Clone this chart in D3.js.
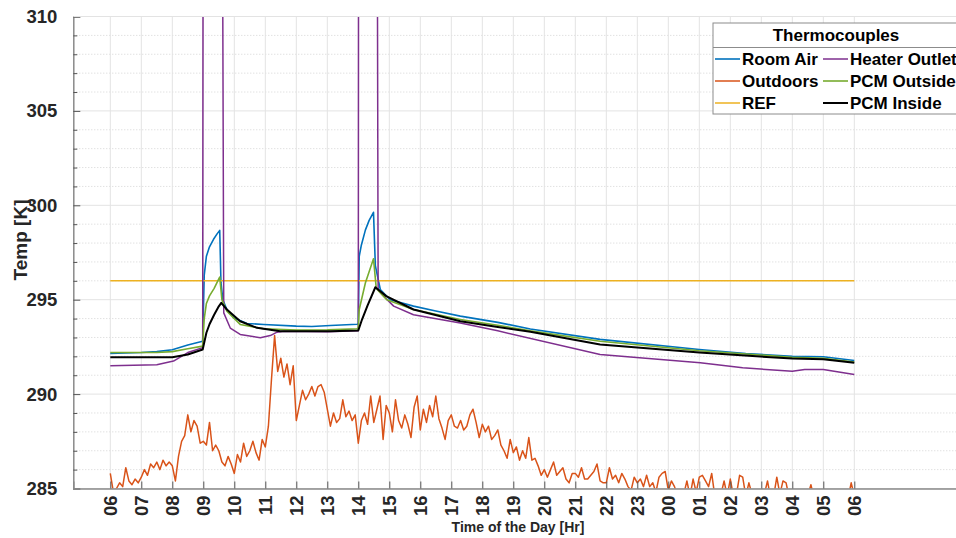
<!DOCTYPE html>
<html>
<head>
<meta charset="utf-8">
<script src="https://cdn.jsdelivr.net/npm/d3@7/dist/d3.min.js"></script>
<style>
  html, body { margin: 0; padding: 0; background: #fff; }
  svg { display: block; font-family: "Liberation Sans", Arial, Helvetica, sans-serif; }
</style>
</head>
<body>
<svg id="chart" width="956" height="538"></svg>
<script>
// Hours are counted from 06:00 on the first day (0) to 06:00 the next day (24).
const hourLabels = ["06","07","08","09","10","11","12","13","14","15","16","17","18",
                    "19","20","21","22","23","00","01","02","03","04","05","06"];
const tempTicks = [285, 290, 295, 300, 305, 310];

// Room Air thermocouple [hour, K]
const roomAir = [[0,292.15],[1,292.2],[1.5,292.25],[2,292.35],[2.5,292.6],[2.85,292.75],[2.98,292.8],
  [3.03,296.3],[3.1,297.3],[3.2,297.8],[3.33,298.2],[3.45,298.5],[3.53,298.67],[3.57,295.9],[3.63,295.0],
  [3.76,294.48],[3.98,294.04],[4.41,293.74],[4.95,293.69],[6.0,293.6],[6.5,293.58],[7.1,293.63],
  [7.96,293.7],[8.0,293.72],[8.03,297.3],[8.1,297.9],[8.23,298.7],[8.35,299.2],[8.49,299.63],
  [8.55,296.8],[8.71,295.54],[9.03,295.0],[9.78,294.66],[10.5,294.4],[11.29,294.13],[12.5,293.8],
  [13.55,293.45],[15.8,292.9],[19.0,292.36],[20.5,292.15],[22.0,292.0],[23.0,291.98],[24.0,291.78]];

// Outdoors thermocouple, one reading every 0.1 h
const outdoorStep = 0.1;
const outdoors = [
  285.8,284.8,285.0,285.3,285.1,286.1,285.4,285.2,285.5,285.3,
  285.6,286.0,285.7,286.3,286.1,286.4,286.0,286.5,286.2,286.4,
  286.2,285.4,286.7,287.5,287.8,288.9,288.0,288.6,288.3,287.4,
  287.5,287.3,288.5,287.0,287.3,287.0,286.4,286.2,286.7,286.3,
  285.8,286.8,286.4,287.4,286.7,287.0,287.5,286.9,286.5,287.6,
  287.2,288.3,290.8,293.1,291.2,291.9,290.9,291.6,290.5,291.5,
  288.6,289.4,290.2,289.7,290.0,290.4,289.9,290.4,290.5,290.1,
  289.2,288.3,289.0,288.5,288.7,289.7,288.8,289.1,288.6,288.9,
  287.4,288.6,289.0,288.4,289.9,288.5,289.2,289.9,287.6,289.4,
  289.0,288.0,289.7,288.6,288.2,288.9,288.4,287.7,289.3,289.9,
  288.1,289.2,288.5,289.4,288.8,289.9,288.7,288.2,287.6,288.6,
  288.9,288.3,288.2,288.6,288.1,288.3,288.9,289.2,288.5,287.7,
  288.4,288.0,288.3,287.6,287.8,288.1,287.3,287.0,286.6,287.6,
  286.9,287.2,286.5,287.0,286.6,287.7,286.5,286.6,286.2,285.7,
  286.0,285.6,286.0,286.4,285.7,285.9,286.1,285.5,285.3,285.8,
  285.8,285.6,286.1,285.5,285.5,285.7,285.9,286.3,285.4,285.3,
  285.3,286.1,285.5,285.7,285.3,285.8,285.5,285.1,284.9,285.6,
  285.3,285.5,285.1,285.7,285.1,285.3,284.8,285.6,285.8,285.9,
  284.9,285.4,285.1,284.6,284.5,284.7,285.4,284.6,285.5,284.8,
  285.6,285.7,285.4,285.1,285.8,284.6,284.5,284.7,285.4,284.6,
  285.5,284.6,284.7,285.7,285.6,284.6,285.3,284.7,284.5,284.6,
  284.6,284.7,285.4,284.5,284.6,285.6,284.7,285.4,285.3,284.5,
  284.5,284.6,284.4,284.6,284.5,284.6,285.2,284.5,284.6,284.5,
  284.6,284.5,284.4,284.5,284.6,284.5,284.6,284.4,284.5,285.3,
  284.6];

// REF set point
const refSetPoint = [[0,296.0],[24,296.0]];

// Heater Outlet thermocouple
const heaterOutlet = [[0,291.5],[1.5,291.55],[2.04,291.75],[2.5,292.2],[2.98,292.46],[3.01,345],
  [3.56,345],[3.66,294.3],[3.87,293.5],[4.19,293.16],[4.84,292.98],[5.16,293.1],[5.38,293.28],
  [5.6,293.33],[7.0,293.3],[8.0,293.35],[8.02,345],[8.57,345],[8.64,295.5],[8.82,295.19],
  [9.14,294.66],[9.78,294.2],[11.29,293.77],[12.5,293.35],[15.8,292.1],[19.03,291.66],
  [20.4,291.39],[22.0,291.21],[22.4,291.3],[23.0,291.3],[24.0,291.04]];

// PCM Outside thermocouple
const pcmOutside = [[0,292.2],[1.5,292.2],[2.0,292.25],[2.5,292.4],[2.98,292.54],[3.03,294.0],
  [3.1,294.8],[3.2,295.2],[3.35,295.6],[3.5,296.1],[3.53,296.2],[3.6,295.0],[3.76,294.39],
  [4.19,293.69],[4.95,293.46],[6.02,293.39],[7.0,293.4],[7.96,293.46],[8.0,293.5],[8.03,294.48],
  [8.23,295.9],[8.49,297.17],[8.58,295.6],[8.92,295.0],[9.78,294.48],[11.29,293.95],[12.5,293.65],
  [13.55,293.35],[15.8,292.8],[19.0,292.3],[22.0,291.95],[23.0,291.9],[24.0,291.7]];

// PCM Inside thermocouple
const pcmInside = [[0,291.95],[2.0,291.95],[2.5,292.1],[2.98,292.36],[3.1,293.25],[3.2,293.7],
  [3.35,294.2],[3.5,294.65],[3.58,294.83],[3.76,294.48],[4.19,293.86],[4.73,293.51],[5.48,293.33],
  [7.1,293.33],[8.0,293.37],[8.12,293.95],[8.3,294.7],[8.55,295.66],[8.9,295.19],[9.78,294.48],
  [11.29,293.86],[12.5,293.55],[13.55,293.3],[15.8,292.63],[19.0,292.2],[22.0,291.88],
  [23.0,291.85],[24.0,291.66]];

const series = [
  { name: "Room Air",      color: "#0072BD", width: 1.6, data: roomAir },
  { name: "Outdoors",      color: "#D95319", width: 1.5, data: outdoors.map((v, i) => [i * outdoorStep, v]) },
  { name: "REF",           color: "#EDB120", width: 1.5, data: refSetPoint },
  { name: "Heater Outlet", color: "#7E2F8E", width: 1.5, data: heaterOutlet },
  { name: "PCM Outside",   color: "#77AC30", width: 1.6, data: pcmOutside },
  { name: "PCM Inside",    color: "#000000", width: 2.0, data: pcmInside }
];

const plotLeft = 73.3, plotRight = 964, plotTop = 16.5, plotBottom = 488.5;
const pxPerHour = 31;
const x = d3.scaleLinear()
  .domain([(plotLeft - 110.3) / pxPerHour, (plotRight - 110.3) / pxPerHour])
  .range([plotLeft, plotRight]);
const y = d3.scaleLinear().domain([285, 310]).range([plotBottom, plotTop]);

const svg = d3.select("#chart");
const textColor = "#262626";

svg.append("defs").append("clipPath").attr("id", "plotClip")
  .append("rect").attr("x", plotLeft).attr("y", plotTop)
  .attr("width", plotRight - plotLeft).attr("height", plotBottom - plotTop);

// grid
const minorTemps = d3.range(286, 310).filter(v => v % 5 !== 0);
const grid = svg.append("g");
grid.selectAll("line.minor").data(minorTemps).join("line")
  .attr("x1", plotLeft).attr("x2", plotRight).attr("y1", d => y(d)).attr("y2", d => y(d))
  .attr("stroke", "#d4d4d4").attr("stroke-width", 1).attr("stroke-dasharray", "1,2");
grid.selectAll("line.hmaj").data(tempTicks).join("line")
  .attr("x1", plotLeft).attr("x2", plotRight).attr("y1", d => y(d)).attr("y2", d => y(d))
  .attr("stroke", "#e3e3e3").attr("stroke-width", 1);
grid.selectAll("line.vmaj").data(d3.range(25)).join("line")
  .attr("x1", d => x(d)).attr("x2", d => x(d)).attr("y1", plotTop).attr("y2", plotBottom)
  .attr("stroke", "#e3e3e3").attr("stroke-width", 1);

// series lines
const line = d3.line().x(d => x(d[0])).y(d => y(d[1]));
const plot = svg.append("g").attr("clip-path", "url(#plotClip)");
series.forEach(s => {
  plot.append("path").datum(s.data)
    .attr("d", line).attr("fill", "none")
    .attr("stroke", s.color).attr("stroke-width", s.width)
    .attr("stroke-linejoin", "round");
});

// y axis
const yAxis = svg.append("g").attr("transform", `translate(${plotLeft},0)`)
  .call(d3.axisLeft(y).tickValues(tempTicks).tickSize(-7).tickPadding(16).tickFormat(d3.format("d")));
svg.append("g").attr("transform", `translate(${plotLeft},0)`)
  .call(d3.axisLeft(y).tickValues(minorTemps).tickSize(-4).tickFormat(""))
  .call(g => g.select(".domain").remove())
  .call(g => g.selectAll(".tick line").attr("stroke", "#555"));

// x axis, labels turned to read upward
const xAxis = svg.append("g").attr("transform", `translate(0,${plotBottom})`)
  .call(d3.axisBottom(x).tickValues(d3.range(25)).tickSize(-7).tickFormat((d, i) => hourLabels[i]));
xAxis.selectAll("text")
  .attr("transform", "translate(0,7) rotate(-90)")
  .attr("x", 0).attr("y", 0).attr("dy", "0.36em")
  .attr("text-anchor", "end");

[yAxis, xAxis].forEach(g => {
  g.select(".domain").attr("stroke", "#8a8a8a").attr("stroke-width", 1.5);
  g.selectAll(".tick line").attr("stroke", "#555");
  g.selectAll("text").attr("fill", textColor).attr("font-size", 18.5).attr("font-weight", "bold")
    .attr("font-family", "Liberation Sans, Arial, sans-serif");
});

// top edge
svg.append("line").attr("x1", plotLeft).attr("x2", plotRight).attr("y1", plotTop).attr("y2", plotTop)
  .attr("stroke", "#e3e3e3");

// axis titles
svg.append("text").attr("x", 518).attr("y", 532).attr("text-anchor", "middle")
  .attr("font-size", 14).attr("font-weight", "bold").attr("fill", textColor)
  .text("Time of the Day [Hr]");
svg.append("text").attr("transform", "translate(27,240) rotate(-90)").attr("text-anchor", "middle")
  .attr("font-size", 19).attr("font-weight", "bold").attr("fill", textColor)
  .text("Temp [K]");

// legend
const lg = svg.append("g");
lg.append("rect").attr("x", 713).attr("y", 23).attr("width", 260).attr("height", 91)
  .attr("fill", "#fff").attr("stroke", "#8c8c8c").attr("stroke-width", 1);
lg.append("line").attr("x1", 713).attr("x2", 973).attr("y1", 47.5).attr("y2", 47.5)
  .attr("stroke", "#8c8c8c").attr("stroke-width", 1);
lg.append("text").attr("x", 836).attr("y", 41).attr("text-anchor", "middle")
  .attr("font-size", 17).attr("font-weight", "bold").attr("fill", "#000").text("Thermocouples");
series.forEach((s, i) => {
  const col = Math.floor(i / 3), row = i % 3;
  const lx = col === 0 ? 715 : 823;
  const ly = 59 + row * 22;
  lg.append("line").attr("x1", lx).attr("x2", lx + 25).attr("y1", ly).attr("y2", ly)
    .attr("stroke", s.color).attr("stroke-width", s.width);
  lg.append("text").attr("x", lx + 27).attr("y", ly).attr("dy", "0.35em")
    .attr("font-size", 17).attr("font-weight", "bold").attr("fill", "#000").text(s.name);
});
</script>
</body>
</html>
